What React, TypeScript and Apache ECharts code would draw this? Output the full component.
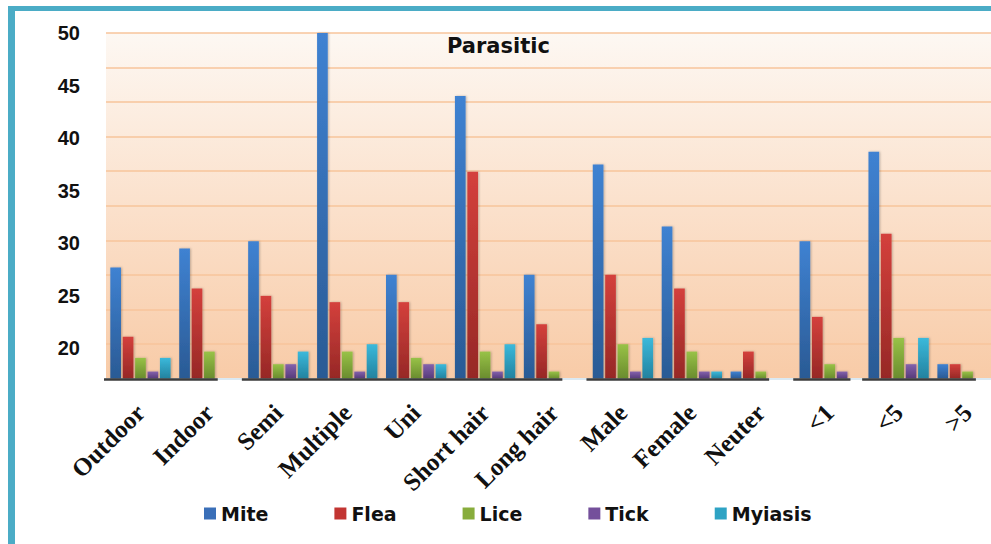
import React, { useEffect, useRef } from 'react';
import * as echarts from 'echarts';

const categories = ['Outdoor', 'Indoor', 'Semi', 'Multiple', 'Uni', 'Short hair', 'Long hair', 'Male', 'Female', 'Neuter', '<1', '<5', '>5'];
const mite = [27.7, 29.5, 30.2, 50, 27.0, 44.0, 27.0, 37.5, 31.6, 17.8, 30.2, 38.7, 18.5];
const flea = [21.1, 25.7, 25.0, 24.4, 24.4, 36.8, 22.3, 27.0, 25.7, 19.7, 23.0, 30.9, 18.5];
const lice = [19.1, 19.7, 18.5, 19.7, 19.1, 19.7, 17.8, 20.4, 19.7, 17.8, 18.5, 21.0, 17.8];
const tick = [17.8, null, 18.5, 17.8, 18.5, 17.8, null, 17.8, 17.8, null, 17.8, 18.5, null];
const myiasis = [19.1, null, 19.7, 20.4, 18.5, 20.4, null, 21.0, 17.8, null, null, 21.0, null];
const seriesNames = ['Mite', 'Flea', 'Lice', 'Tick', 'Myiasis'];
const seriesValues = [mite, flea, lice, tick, myiasis];
const yTickLabels = [20, 25, 30, 35, 40, 45, 50];
const yMin = 17.14;
const yMax = 50;
// category groups (start index, end index) that share an axis segment
const groups = [[0, 1], [2, 6], [7, 9], [10, 10], [11, 12]];

const topColors = ['#3f82d2', '#d4403c', '#98c247', '#8462ad', '#3bb9db'];
const bottomColors = ['#2a5a94', '#962826', '#6a8c2e', '#573b7a', '#23829f'];
const legendColors = ['#3a6fb8', '#c23532', '#88ad3c', '#74509b', '#2ea3c4'];

const CAT_GAP = 0.125;
const BAR_GAP = 0.16;

export default function App() {
  const ref = useRef<HTMLDivElement>(null);
  useEffect(() => {
    if (!ref.current) return;
    const chart = echarts.init(ref.current, null, { renderer: 'svg' });

    const segData = groups.map(([s, e]) => {
      const n = seriesValues.filter((arr) => arr[e] != null).length;
      return [s, yMin, e, n];
    });

    const barSeries = seriesNames.map((name, i) => ({
      type: 'bar',
      name,
      data: seriesValues[i],
      yAxisIndex: 0,
      barCategoryGap: '12.5%',
      barGap: '16%',
      itemStyle: {
        color: new echarts.graphic.LinearGradient(0, 0, 0, 1, [
          { offset: 0, color: topColors[i] },
          { offset: 1, color: bottomColors[i] },
        ]),
        shadowColor: 'rgba(0,0,0,0.25)',
        shadowBlur: 2,
        shadowOffsetX: 1,
      },
      emphasis: { disabled: true },
      z: 2,
    }));

    const segSeries = {
      type: 'custom',
      name: 'axisSegments',
      yAxisIndex: 0,
      encode: { x: 0, y: 1 },
      data: segData,
      z: 4,
      silent: true,
      renderItem: (params: any, api: any) => {
        const s = api.value(0);
        const e = api.value(2);
        const n = api.value(3);
        const bw = api.size([1, 0])[0];
        const barW = (bw * (1 - CAT_GAP)) / (5 + 4 * BAR_GAP);
        const step = barW * (1 + BAR_GAP);
        const p0 = api.coord([s, yMin]);
        const p1 = api.coord([e, yMin]);
        const x0 = p0[0] - bw / 2 - 2;
        const lastStart = p1[0] - bw / 2 + (bw * CAT_GAP) / 2;
        const x1 = lastStart + n * step - barW * BAR_GAP + 3;
        const y = p0[1] + 1;
        return {
          type: 'line',
          shape: { x1: x0, y1: y, x2: x1, y2: y },
          style: { stroke: '#3c3c3c', lineWidth: 2.5 },
        };
      },
    };

    chart.setOption({
      animation: false,
      backgroundColor: '#ffffff',
      title: {
        text: 'Parasitic',
        left: 447,
        top: 35,
        padding: 0,
        textStyle: { fontFamily: 'DejaVu Sans', fontWeight: 'bold', fontSize: 21, color: '#111' },
      },
      legend: {
        left: 204,
        top: 504,
        padding: 0,
        itemWidth: 12,
        itemHeight: 12,
        itemGap: 66,
        icon: 'rect',
        data: seriesNames.map((n, i) => ({ name: n, itemStyle: { color: legendColors[i] } })),
        textStyle: { fontFamily: 'DejaVu Sans', fontWeight: 'bold', fontSize: 19, color: '#111' },
      },
      grid: {
        left: 106,
        right: 8,
        top: 33,
        bottom: 165.5,
        show: true,
        borderWidth: 0,
        containLabel: false,
        outerBoundsMode: 'none',
        backgroundColor: new echarts.graphic.LinearGradient(0, 0, 0, 1, [
          { offset: 0, color: '#fdf8f3' },
          { offset: 0.5, color: '#fbe1cc' },
          { offset: 1, color: '#f8cba7' },
        ]),
      },
      xAxis: {
        type: 'category',
        data: categories,
        axisLine: { show: true, onZero: false, lineStyle: { color: '#dbe9f2', width: 2 } },
        axisTick: { show: false },
        splitLine: { show: false },
        axisLabel: {
          interval: 0,
          rotate: 45,
          margin: 30,
          fontFamily: 'Liberation Serif',
          fontWeight: 'bold',
          fontSize: 25,
          color: '#111',
        },
      },
      yAxis: [
        {
          type: 'value',
          min: yMin,
          max: yMax,
          position: 'left',
          axisLine: { show: false },
          axisTick: { show: false },
          splitLine: { show: false },
          axisLabel: {
            customValues: yTickLabels,
            margin: 26,
            fontFamily: 'Liberation Sans',
            fontWeight: 'bold',
            fontSize: 20,
            color: '#111',
          },
        },
        {
          type: 'value',
          min: 0,
          max: 50,
          interval: 5,
          position: 'right',
          axisLine: { show: false },
          axisTick: { show: false },
          axisLabel: { show: false },
          splitLine: { show: true, lineStyle: { color: '#f7c49b', width: 1.5 } },
        },
      ],
      graphic: [
        { type: 'rect', shape: { x: 8, y: 6, width: 7, height: 600 }, style: { fill: '#4bacc6' }, z: 10 },
        { type: 'rect', shape: { x: 8, y: 6, width: 1100, height: 5 }, style: { fill: '#4bacc6' }, z: 10 },
      ],
      series: [...barSeries, segSeries],
    });
    return () => chart.dispose();
  }, []);

  return (
    <div style={{ position: 'fixed', left: 0, top: 0, width: 991, height: 544, overflow: 'hidden', background: '#fff' }}>
      <div ref={ref} style={{ width: 1010, height: 544 }} />
    </div>
  );
}
